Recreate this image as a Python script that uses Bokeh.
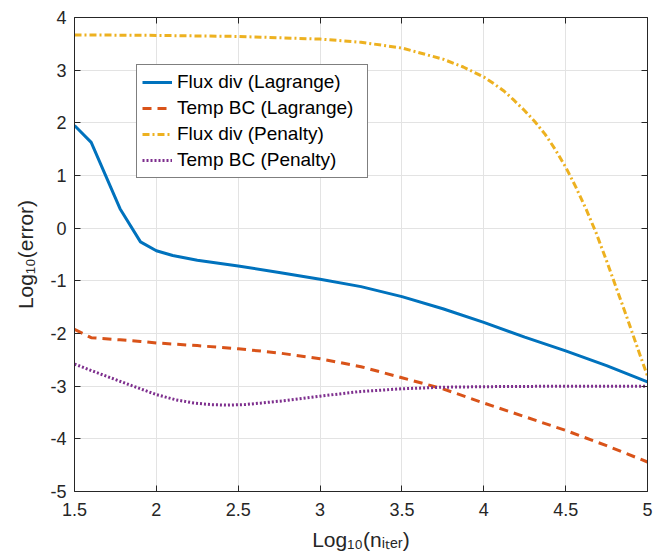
from bokeh.plotting import figure
from bokeh.models import (Range1d, FixedTicker, LinearAxis, Legend, LegendItem,
                          CustomLabelingPolicy)
from bokeh.embed import file_html
from bokeh.resources import INLINE

# ---- data ----
x_lag = [1.5, 1.602, 1.778, 1.903, 2.0, 2.1, 2.25, 2.5, 2.75, 3.0, 3.25, 3.5, 3.75, 4.0, 4.25, 4.5, 4.75, 5.0]
flux_lag = [1.95, 1.63, 0.37, -0.26, -0.43, -0.52, -0.61, -0.72, -0.84, -0.97, -1.11, -1.30, -1.53, -1.79, -2.07, -2.33, -2.61, -2.92]
temp_lag = [-1.92, -2.08, -2.12, -2.15, -2.18, -2.20, -2.23, -2.29, -2.37, -2.48, -2.63, -2.84, -3.05, -3.32, -3.58, -3.84, -4.13, -4.44]

x_flux_pen = [1.5, 2.0, 2.5, 3.0, 3.25, 3.5, 3.75, 3.875, 4.0, 4.0625, 4.125, 4.1875, 4.25, 4.3125,
              4.375, 4.4375, 4.5, 4.5625, 4.625, 4.6875, 4.75, 4.8125, 4.875, 4.9375, 5.0]
flux_pen = [3.67, 3.66, 3.64, 3.59, 3.53, 3.42, 3.21, 3.06, 2.87, 2.74, 2.60, 2.42, 2.23, 2.02,
            1.78, 1.49, 1.16, 0.78, 0.36, -0.10, -0.62, -1.16, -1.70, -2.26, -2.81]

x_temp_pen = [1.5, 1.6, 1.72, 1.85, 2.0, 2.12, 2.23, 2.33, 2.43, 2.54, 2.64, 2.8, 3.0, 3.25, 3.5, 3.75, 4.0, 4.5, 5.0]
temp_pen = [-2.58, -2.70, -2.84, -2.99, -3.16, -3.26, -3.32, -3.35, -3.36, -3.35, -3.32, -3.27, -3.19, -3.10, -3.05, -3.02, -3.01, -3.00, -3.00]

series_names = ["Flux div (Lagrange)", "Temp BC (Lagrange)", "Flux div (Penalty)", "Temp BC (Penalty)"]
x_ticks = [1.5, 2, 2.5, 3, 3.5, 4, 4.5, 5]
x_tick_labels = ["1.5", "2", "2.5", "3", "3.5", "4", "4.5", "5"]
y_ticks = [-5, -4, -3, -2, -1, 0, 1, 2, 3, 4]
y_tick_labels = ["-5", "-4", "-3", "-2", "-1", "0", "1", "2", "3", "4"]
x_title = "Log\u2081\u2080(n\u1d62\u209c\u2091\u1d63)"
y_title = "Log\u2081\u2080(error)"

# ---- style ----
FONT = "Liberation Sans"
TXT = "#262626"
FW, FH = 573, 474
BL, BT = 74, 17

p = figure(frame_width=FW, frame_height=FH, output_backend="svg", toolbar_location=None,
           x_range=Range1d(1.5, 5.0), y_range=Range1d(-5.0, 4.0),
           min_border_left=BL, min_border_right=664 - BL - FW - 2, min_border_top=BT,
           min_border_bottom=556 - BT - FH - 2)
p.outline_line_color = None
p.background_fill_color = "white"
p.border_fill_color = "white"

for ax, ticks, labels in ((p.xaxis[0], x_ticks, x_tick_labels), (p.yaxis[0], y_ticks, y_tick_labels)):
    ax.ticker = FixedTicker(ticks=ticks)
    ax.major_label_overrides = {t: l for t, l in zip(ticks, labels)}
    ax.major_tick_in = 6
    ax.major_tick_out = 0
    ax.minor_tick_line_color = None
    ax.axis_line_color = TXT
    ax.major_tick_line_color = TXT
    ax.major_label_text_font = FONT
    ax.major_label_text_font_size = "18px"
    ax.major_label_text_color = TXT
    ax.axis_label_text_font = FONT
    ax.axis_label_text_font_size = "21px"
    ax.axis_label_text_font_style = "normal"
    ax.axis_label_text_color = TXT
p.xaxis[0].major_label_standoff = 11
p.yaxis[0].major_label_standoff = 8
p.xaxis[0].axis_label = x_title
p.yaxis[0].axis_label = y_title
p.xaxis[0].axis_label_standoff = 9
p.yaxis[0].axis_label_standoff = 10

no_labels = CustomLabelingPolicy(code="return new Set()")
for side, ticks in (("right", y_ticks), ("above", x_ticks)):
    ax = LinearAxis(ticker=FixedTicker(ticks=ticks), major_tick_in=6, major_tick_out=0,
                    minor_tick_line_color=None, axis_line_color=TXT, major_tick_line_color=TXT,
                    major_label_policy=no_labels, major_label_standoff=0)
    p.add_layout(ax, side)

p.xgrid.ticker = FixedTicker(ticks=x_ticks)
p.ygrid.ticker = FixedTicker(ticks=y_ticks)
p.grid.grid_line_color = "#e3e3e3"
p.grid.grid_line_width = 1

r1 = p.line(x_lag, flux_lag, line_color="#0072BD", line_width=3)
r2 = p.line(x_lag, temp_lag, line_color="#D95319", line_width=3, line_dash="9 6")
r3 = p.line(x_flux_pen, flux_pen, line_color="#EDB120", line_width=3, line_dash="7 3 2 3")
r4 = p.line(x_temp_pen, temp_pen, line_color="#7E2F8E", line_width=3, line_dash="2 2")

legend = Legend(items=[LegendItem(label=n, renderers=[r]) for n, r in zip(series_names, [r1, r2, r3, r4])],
                location=(62, 313), label_text_font=FONT, label_text_font_size="19px",
                label_text_color="black", glyph_width=30, glyph_height=24, label_height=24,
                label_width=185, label_standoff=5, spacing=2, padding=5, margin=0,
                border_line_color="black", border_line_width=1, background_fill_alpha=1.0)
p.add_layout(legend, "center")

open("out.html", "w").write(file_html(p, INLINE))
